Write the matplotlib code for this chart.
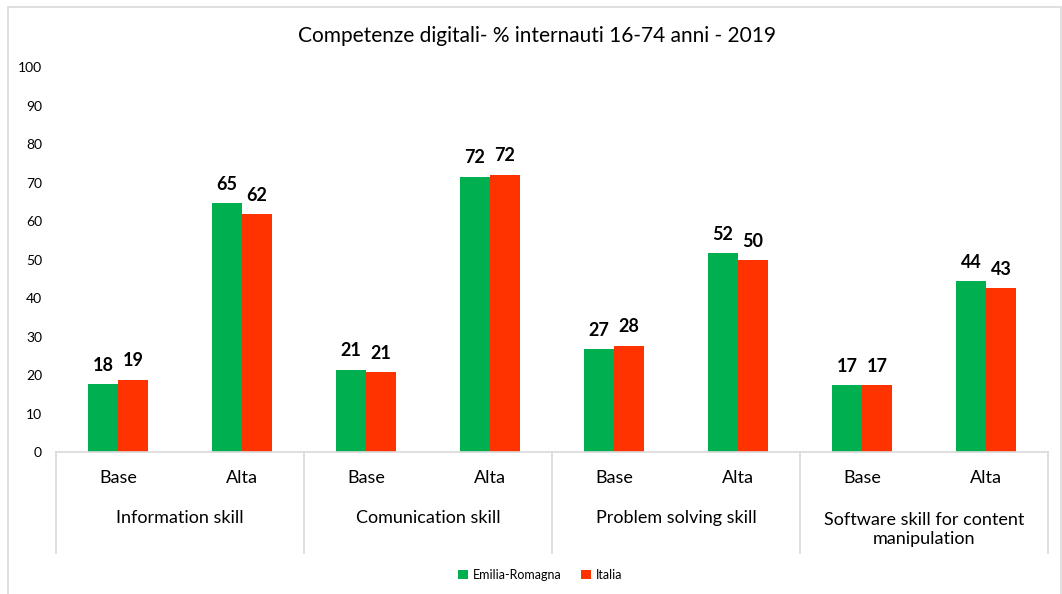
import matplotlib
matplotlib.use("Agg")
import matplotlib.pyplot as plt
from matplotlib.patches import Rectangle, Patch
from matplotlib.lines import Line2D
import numpy as np

plt.rcParams['font.family'] = ['Lato', 'DejaVu Sans']

groups = ["Information skill", "Comunication skill", "Problem solving skill",
          "Software skill for content\nmanipulation"]
levels = ["Base", "Alta"]
series_names = ["Emilia-Romagna", "Italia"]
emilia = [17.6, 64.6, 21.4, 71.6, 26.8, 51.7, 17.4, 44.4]
italia = [18.8, 61.8, 20.7, 72.1, 27.6, 49.8, 17.4, 42.6]
colors = ["#00B050", "#FF3300"]
title = "Competenze digitali- % internauti 16-74 anni - 2019"

W, H = 1062, 594
fig = plt.figure(figsize=(W/100, H/100), dpi=100)

x0, x1 = 56, 1048
y0, y100 = 452, 67.3
ax = fig.add_axes([x0/W, 1 - y0/H, (x1 - x0)/W, (y0 - y100)/H])

n = len(emilia)
x = np.arange(n)
bw = 0.242
ax.bar(x - bw/2, emilia, bw, color=colors[0], label=series_names[0])
ax.bar(x + bw/2, italia, bw, color=colors[1], label=series_names[1])
for xi, v in zip(x, emilia):
    ax.text(xi - bw/2, v + 2.7, f"{round(v):d}", ha="center", va="bottom",
            fontsize=13, fontweight="bold", color="black")
for xi, v in zip(x, italia):
    ax.text(xi + bw/2, v + 2.7, f"{round(v):d}", ha="center", va="bottom",
            fontsize=13, fontweight="bold", color="black")

ax.set_xlim(-0.5, n - 0.5)
ax.set_ylim(0, 100)
ax.set_yticks(np.arange(0, 101, 10))
ax.tick_params(axis="y", length=0, pad=10, labelsize=10, labelcolor="black")
ax.set_xticks([])
for s in ["top", "right", "left"]:
    ax.spines[s].set_visible(False)
ax.spines["bottom"].set_color("#D9D9D9")
ax.spines["bottom"].set_linewidth(1.2)

def fx(px):
    return px / W
def fy(py):
    return 1 - py / H

slot = (x1 - x0) / n
for i in range(n):
    cx = x0 + slot * (i + 0.5)
    fig.text(fx(cx), fy(478), levels[i % 2], ha="center", va="center",
             fontsize=13, color="black")
for g, name in enumerate(groups):
    cx = x0 + slot * (2 * g + 1)
    if "\n" in name:
        fig.text(fx(cx), fy(529.5), name, ha="center", va="center", fontsize=13,
                 color="black", linespacing=1.3)
    else:
        fig.text(fx(cx), fy(518), name, ha="center", va="center", fontsize=13,
                 color="black")
for g in range(len(groups) + 1):
    px = x0 + slot * 2 * g
    fig.add_artist(Line2D([fx(px), fx(px)], [fy(452), fy(553)],
                          transform=fig.transFigure, color="#D9D9D9", lw=1.2))

fig.text(fx(537), fy(36), title, ha="center", va="center", fontsize=15,
         color="black")

handles = [Patch(facecolor=colors[0]), Patch(facecolor=colors[1])]
fig.legend(handles, series_names, loc="center", bbox_to_anchor=(fx(540), fy(575)),
           ncol=2, frameon=False, fontsize=9, handlelength=0.8, handleheight=0.8,
           handletextpad=0.4, columnspacing=1.5)

fig.add_artist(Rectangle((fx(8), fy(600)), fx(1061) - fx(8), fy(7) - fy(600),
                         transform=fig.transFigure, fill=False,
                         edgecolor="#D9D9D9", lw=1.2))

fig.savefig("out.png", dpi=100)
